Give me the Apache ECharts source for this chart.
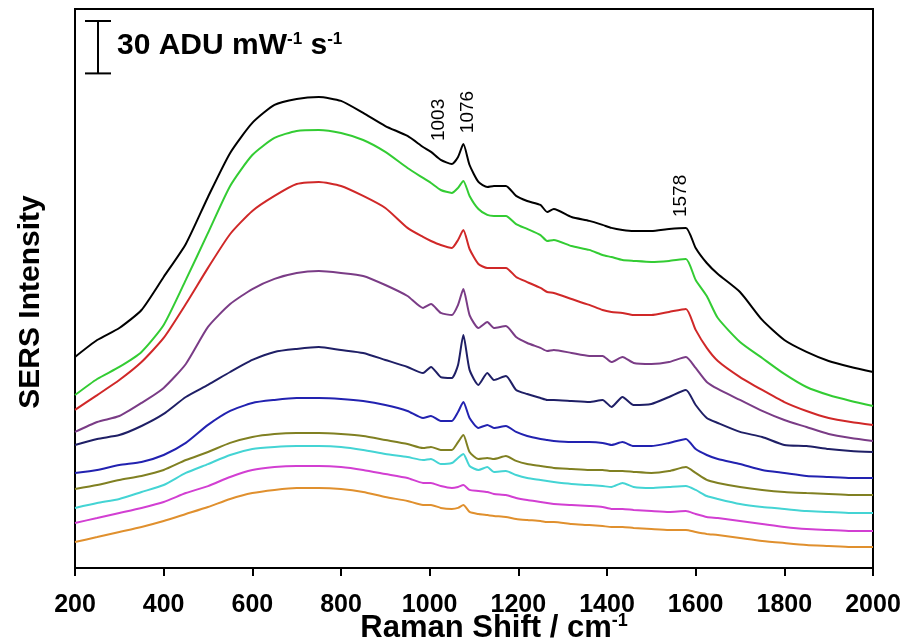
<!DOCTYPE html>
<html>
<head>
<meta charset="utf-8">
<title>SERS spectra</title>
<script src="https://cdn.jsdelivr.net/npm/echarts@6/dist/echarts.min.js"></script>
<style>
  html, body { margin: 0; padding: 0; background: #fff; }
  #chart { width: 906px; height: 638px; }
</style>
</head>
<body>
<div id="chart"></div>
<script>
// Raman shift sampling points (cm^-1)
const ramanShift = [200,250,300,350,400,450,500,550,600,650,700,750,800,850,900,950,985,1003,1025,1050,1064,1076,1090,1110,1130,1145,1172,1195,1220,1250,1265,1280,1320,1360,1390,1410,1435,1460,1500,1540,1578,1600,1625,1650,1700,1750,1800,1850,1900,1950,2000];

// SERS intensity of each stacked spectrum (ADU mW^-1 s^-1, offset stack), top to bottom
const traceBlack   = [120.8,130.5,137.4,147.7,166.6,185.5,212.4,237.6,254.8,265.1,268.5,269.6,267.4,260.5,253.0,247.3,241.0,238.2,233.6,231.3,235.3,242.7,230.7,221.0,218.1,218.7,218.7,213.0,210.1,207.8,203.8,205.5,200.9,198.7,196.4,194.7,193.5,192.9,192.9,194.1,194.7,183.2,174.6,168.3,158.0,142.0,130.5,123.7,118.5,115.1,112.2];
const traceGreen   = [99.0,108.2,115.1,123.7,139.1,164.9,191.8,218.7,236.4,246.2,250.2,250.8,249.0,245.0,238.2,229.0,223.3,220.4,216.4,214.7,217.6,221.6,213.0,205.5,202.1,201.5,201.5,196.9,194.1,190.6,187.2,187.8,184.3,182.1,179.2,178.0,176.3,175.8,175.2,175.8,176.9,164.9,155.7,143.1,129.4,120.2,111.1,103.6,99.0,95.6,92.7];
const traceRed     = [90.5,99.0,107.6,117.9,131.7,151.1,171.8,191.2,204.4,213.0,219.8,221.0,218.7,213.0,206.1,194.7,189.5,187.2,184.9,183.2,187.8,193.5,182.6,174.0,171.8,171.8,171.8,166.6,163.7,160.3,158.0,157.4,154.0,150.6,147.7,146.6,146.0,144.8,144.8,146.6,148.3,136.3,126.0,118.5,109.3,101.9,95.0,89.9,85.9,83.6,81.9];
const tracePurple  = [77.9,83.6,87.0,94.5,103.1,116.8,138.0,151.1,159.7,165.5,168.9,170.0,168.9,167.2,162.0,155.7,148.9,151.1,146.0,144.8,150.6,159.7,144.8,137.4,140.8,137.4,138.5,132.2,128.8,126.0,124.2,124.8,123.1,121.4,121.4,117.9,120.8,117.4,116.8,117.9,120.8,114.5,106.5,102.5,96.2,89.9,84.7,80.7,76.7,74.4,72.7];
const traceNavy    = [70.4,73.9,76.1,81.3,88.2,97.9,104.8,112.2,119.1,123.7,125.4,126.5,124.8,123.1,119.1,115.1,111.6,115.1,109.3,108.8,116.2,133.4,113.4,104.8,111.6,107.6,109.9,101.9,99.6,97.3,96.2,96.2,95.6,95.0,96.2,92.2,97.9,93.3,93.9,97.9,101.9,93.3,85.9,83.0,77.9,75.0,70.4,69.8,68.1,67.0,66.4];
const traceBlue    = [54.4,56.1,59.0,60.7,64.7,71.6,81.9,89.9,94.5,96.2,97.3,97.3,96.8,95.6,93.3,89.9,85.9,87.0,84.2,84.2,89.3,95.0,85.9,80.2,81.9,80.2,81.3,77.9,75.6,73.9,73.3,72.7,72.1,72.1,71.6,70.4,72.1,69.8,69.8,71.6,73.9,68.1,64.7,62.4,59.5,56.1,54.4,52.7,52.1,51.5,51.5];
const traceOlive   = [45.2,47.5,50.4,52.7,56.1,61.8,66.4,71.6,75.0,76.7,77.3,77.3,76.7,75.6,73.3,71.0,68.7,69.3,67.6,67.6,72.1,76.1,66.4,62.4,63.0,62.4,64.1,61.3,59.5,58.4,57.8,57.3,56.7,56.1,56.1,55.5,55.5,55.0,54.4,55.5,57.8,54.4,50.4,48.7,46.4,44.7,43.5,42.9,42.4,41.8,41.8];
const traceCyan    = [34.4,37.2,39.5,43.5,47.5,54.4,59.5,64.7,68.1,69.3,69.8,69.8,69.3,67.6,65.3,63.5,61.8,62.4,59.5,60.1,63.0,65.3,58.4,56.1,57.8,55.0,55.5,53.2,51.5,50.4,49.8,49.2,48.1,47.5,46.9,46.4,48.7,46.4,45.8,46.4,46.9,44.7,41.2,39.5,36.6,34.9,33.8,32.6,32.1,31.5,31.5];
const traceMagenta = [25.8,28.6,31.5,34.4,37.8,42.9,46.9,52.1,56.1,57.8,58.4,58.4,57.8,56.1,53.8,51.5,48.7,48.7,46.9,45.8,46.4,47.5,44.7,44.1,43.5,42.4,41.8,40.1,38.9,37.8,37.2,36.6,36.1,35.5,34.9,33.8,33.8,33.2,32.6,32.1,32.6,30.9,29.2,28.6,26.9,25.2,23.5,22.3,21.8,21.2,21.2];
const traceOrange  = [14.9,17.7,20.6,23.5,26.9,30.9,34.9,39.5,42.9,44.7,45.8,45.8,45.2,43.5,40.6,38.4,36.1,36.1,34.4,33.8,34.4,36.1,32.1,30.9,30.3,29.8,29.2,28.1,27.5,26.9,26.3,26.3,25.2,24.6,24.0,23.5,23.5,22.9,22.3,21.8,21.8,20.6,19.5,18.9,17.2,15.5,14.3,13.2,12.6,12.0,12.0];

// x-axis ticks and annotated band positions
const xTicks = [200,400,600,800,1000,1200,1400,1600,1800,2000];
const peakLabels = [1003, 1076, 1578];
const scaleBarValue = 30;

const traces = [
  { name: 'S1',  data: traceBlack,   color: '#000000' },
  { name: 'S2',  data: traceGreen,   color: '#33cc33' },
  { name: 'S3',  data: traceRed,     color: '#d02828' },
  { name: 'S4',  data: tracePurple,  color: '#7a3c86' },
  { name: 'S5',  data: traceNavy,    color: '#1f1f66' },
  { name: 'S6',  data: traceBlue,    color: '#2222b0' },
  { name: 'S7',  data: traceOlive,   color: '#808022' },
  { name: 'S8',  data: traceCyan,    color: '#44d4d4' },
  { name: 'S9',  data: traceMagenta, color: '#d23fd2' },
  { name: 'S10', data: traceOrange,  color: '#e0902e' }
];

const FONT = '"Liberation Sans", Arial, Helvetica, sans-serif';

const chart = echarts.init(document.getElementById('chart'));

chart.setOption({
  backgroundColor: '#ffffff',
  animation: false,
  grid: {
    left: 75, right: 33, top: 9, bottom: 70,
    show: true, borderColor: '#000', borderWidth: 2
  },
  xAxis: {
    type: 'value',
    min: xTicks[0],
    max: xTicks[xTicks.length - 1],
    interval: xTicks[1] - xTicks[0],
    axisLine: { show: true, lineStyle: { color: '#000', width: 2 } },
    axisTick: { show: true, length: 8, lineStyle: { color: '#000', width: 2 } },
    axisLabel: {
      color: '#000', fontSize: 25, fontWeight: 'bold', fontFamily: FONT,
      margin: 25, showMinLabel: true, showMaxLabel: true,
      formatter: v => String(v)
    },
    splitLine: { show: false }
  },
  yAxis: {
    type: 'value',
    min: 0, max: 320,
    axisLine: { show: false },
    axisTick: { show: false },
    axisLabel: { show: false },
    splitLine: { show: false }
  },
  series: traces.map(t => ({
    name: t.name,
    type: 'line',
    data: ramanShift.map((x, i) => [x, t.data[i]]),
    showSymbol: false,
    smooth: 0.2,
    lineStyle: { color: t.color, width: 2 },
    itemStyle: { color: t.color }
  }))
});

// Annotations: axis titles, intensity scale bar, band labels
function drawAnnotations() {
  const y0 = chart.convertToPixel({ yAxisIndex: 0 }, 0);
  const yS = chart.convertToPixel({ yAxisIndex: 0 }, scaleBarValue);
  const barLen = y0 - yS;
  const barTop = 21, barX = 98, capHalf = 13;

  const elements = [
    {
      type: 'text', x: 31, y: 302, rotation: Math.PI / 2,
      style: {
        text: 'SERS Intensity', fill: '#000',
        font: 'bold 30px ' + FONT,
        align: 'center', verticalAlign: 'middle'
      }
    },
    {
      type: 'text', x: 494, y: 628,
      style: {
        text: '{a|Raman Shift / cm}{s|-1}',
        align: 'center', verticalAlign: 'middle',
        rich: {
          a: { fontSize: 31, fontWeight: 'bold', fontFamily: FONT, fill: '#000', color: '#000' },
          s: { fontSize: 18, fontWeight: 'bold', fontFamily: FONT, fill: '#000', color: '#000', verticalAlign: 'top' }
        }
      }
    },
    {
      type: 'group',
      children: [
        { type: 'line', shape: { x1: barX, y1: barTop, x2: barX, y2: barTop + barLen }, style: { stroke: '#000', lineWidth: 2 } },
        { type: 'line', shape: { x1: barX - capHalf, y1: barTop, x2: barX + capHalf, y2: barTop }, style: { stroke: '#000', lineWidth: 2 } },
        { type: 'line', shape: { x1: barX - capHalf, y1: barTop + barLen, x2: barX + capHalf, y2: barTop + barLen }, style: { stroke: '#000', lineWidth: 2 } },
        {
          type: 'text', x: 117, y: barTop + barLen / 2 - 1,
          style: {
            text: '{a|' + scaleBarValue + ' ADU mW}{s|-1}{a| s}{s|-1}',
            align: 'left', verticalAlign: 'middle',
            rich: {
              a: { fontSize: 30, fontWeight: 'bold', fontFamily: FONT, fill: '#000', color: '#000' },
              s: { fontSize: 17, fontWeight: 'bold', fontFamily: FONT, fill: '#000', color: '#000', verticalAlign: 'top' }
            }
          }
        }
      ]
    }
  ];

  const labelShift = [8, 4, -5];
  peakLabels.forEach((wn, k) => {
    const idx = ramanShift.indexOf(wn);
    const p = chart.convertToPixel({ xAxisIndex: 0, yAxisIndex: 0 }, [wn, traceBlack[idx]]);
    elements.push({
      type: 'text', x: p[0] + labelShift[k], y: p[1] - 32, rotation: Math.PI / 2,
      style: {
        text: String(wn), fill: '#000',
        font: '19px ' + FONT,
        align: 'center', verticalAlign: 'middle'
      }
    });
  });

  chart.setOption({ graphic: { elements } });
}
drawAnnotations();
</script>
</body>
</html>
